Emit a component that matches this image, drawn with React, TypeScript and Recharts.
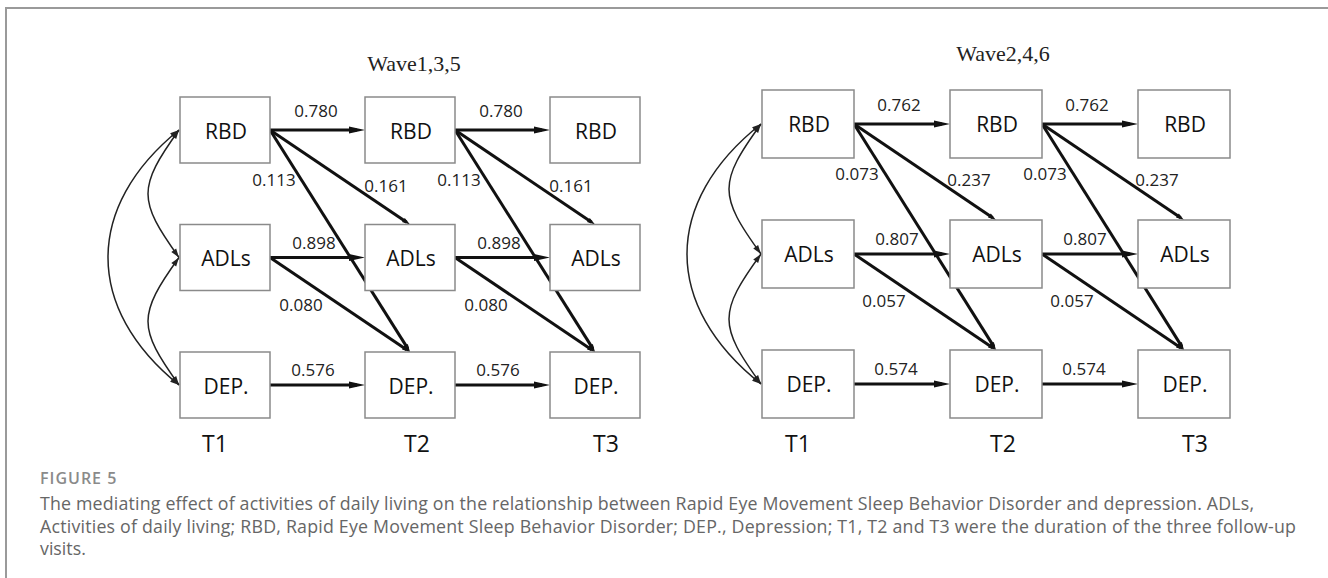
import React from "react";
import { ComposedChart, Scatter, XAxis, YAxis, ReferenceLine } from "recharts";

// ---- data -----------------------------------------------------------------
const TIMES = ["T1", "T2", "T3"];
const VARS = ["RBD", "ADLs", "DEP."];
const WAVE_TITLES = ["Wave1,3,5", "Wave2,4,6"];

// standardized path coefficients, [Wave1,3,5, Wave2,4,6]; same for T1→T2 and T2→T3
const STAB_RBD = [0.78, 0.762];
const STAB_ADL = [0.898, 0.807];
const STAB_DEP = [0.576, 0.574];
const RBD_TO_ADL = [0.161, 0.237];
const RBD_TO_DEP = [0.113, 0.073];
const ADL_TO_DEP = [0.08, 0.057];

// T1 covariances (variable index pairs, 1-based)
const COVARIANCES: [number, number][] = [
  [1, 2],
  [2, 3],
  [1, 3],
];

const CAPTION = [
  "The mediating effect of activities of daily living on the relationship between Rapid Eye Movement Sleep Behavior Disorder and depression. ADLs,",
  "Activities of daily living; RBD, Rapid Eye Movement Sleep Behavior Disorder; DEP., Depression; T1, T2 and T3 were the duration of the three follow-up",
  "visits.",
];
const CAPTION_WIDTH = [1214, 1256, 0];

// ---- layout / style ----------------------------------------------------------
const SANS = "'Open Sans', sans-serif";
const AXIS_H = 40;
const X_DOMAIN = [0, 3.6];
const Y_DOMAIN = [0.2, 3.4];

const PANELS = [
  { left: 40, top: 28, colStep: 185, rowStep: 127.5, box: { w: 90, h: 66 }, bulge: [31, 71], titleX: 414, titleY: 71 },
  { left: 620, top: 20, colStep: 188, rowStep: 130, box: { w: 92, h: 68 }, bulge: [32, 74], titleX: 1003, titleY: 61 },
];

// label placement relative to the source box centre
const LABEL_OFFSET: Record<string, { dx: number; dy: number }> = {
  RR: { dx: 91, dy: -13 },
  AA: { dx: 89, dy: -9 },
  DD: { dx: 88, dy: -9 },
  RD: { dx: 49, dy: 56 },
  RA: { dx: 161, dy: 62 },
  AD: { dx: 76, dy: 53 },
};
const TICK_NUDGE = [-10, 7, 11];

type Edge = { x1: number; y1: number; x2: number; y2: number; kind: string; coef: number };

function buildEdges(p: number): Edge[] {
  const out: Edge[] = [];
  for (let t = 1; t <= 2; t++) {
    out.push({ x1: t, y1: 1, x2: t + 1, y2: 1, kind: "RR", coef: STAB_RBD[p] });
    out.push({ x1: t, y1: 2, x2: t + 1, y2: 2, kind: "AA", coef: STAB_ADL[p] });
    out.push({ x1: t, y1: 3, x2: t + 1, y2: 3, kind: "DD", coef: STAB_DEP[p] });
    out.push({ x1: t, y1: 1, x2: t + 1, y2: 2, kind: "RA", coef: RBD_TO_ADL[p] });
    out.push({ x1: t, y1: 1, x2: t + 1, y2: 3, kind: "RD", coef: RBD_TO_DEP[p] });
    out.push({ x1: t, y1: 2, x2: t + 1, y2: 3, kind: "AD", coef: ADL_TO_DEP[p] });
  }
  return out;
}

const NODES = TIMES.flatMap((_, ti) => VARS.map((label, vi) => ({ x: ti + 1, y: vi + 1, label })));

function head(tx: number, ty: number, ux: number, uy: number, len: number, half: number) {
  const bx = tx - ux * len;
  const by = ty - uy * len;
  return `${tx},${ty} ${bx - uy * half},${by + ux * half} ${bx + uy * half},${by - ux * half}`;
}

function PathShape(props: any) {
  const { x1, y1, x2, y2, edge, box } = props;
  if (x1 == null) return null;
  const sx = x1 + box.w / 2;
  const sy = y1;
  const flat = Math.abs(y2 - y1) < 1;
  const ex = flat ? x2 - box.w / 2 : x2;
  const ey = flat ? y2 : y2 - box.h / 2;
  const len = Math.hypot(ex - sx, ey - sy);
  const ux = (ex - sx) / len;
  const uy = (ey - sy) / len;
  const hl = flat ? 16 : 8;
  const hw = flat ? 3.5 : 2.5;
  const off = LABEL_OFFSET[edge.kind];
  return (
    <g>
      <line x1={sx} y1={sy} x2={ex - ux * hl * 0.5} y2={ey - uy * hl * 0.5} stroke="#111" strokeWidth={3} />
      <polygon points={head(ex, ey, ux, uy, hl, hw)} fill="#111" />
      <text x={x1 + off.dx} y={y1 + off.dy} textAnchor="middle" fontFamily={SANS} fontSize={17} fill="#222">
        {edge.coef.toFixed(3)}
      </text>
    </g>
  );
}

function CovShape(props: any) {
  const { x1, y1, y2, box, bulge } = props;
  if (x1 == null) return null;
  const x = x1 - box.w / 2 - 1;
  const span = y2 - y1;
  const k = bulge / 0.75;
  const a = span > 200 ? 0.3 : 0.45;
  const d = `M${x},${y1} C${x - k},${y1 + a * span} ${x - k},${y2 - a * span} ${x},${y2}`;
  const n = Math.hypot(k, a * span);
  return (
    <g>
      <path d={d} fill="none" stroke="#222" strokeWidth={1.5} />
      <polygon points={head(x, y1, k / n, (-a * span) / n, 9, 3)} fill="#222" />
      <polygon points={head(x, y2, k / n, (a * span) / n, 9, 3)} fill="#222" />
    </g>
  );
}

function Panel({ p }: { p: number }) {
  const cfg = PANELS[p];
  const width = cfg.colStep * (X_DOMAIN[1] - X_DOMAIN[0]);
  const plotH = cfg.rowStep * (Y_DOMAIN[1] - Y_DOMAIN[0]);
  const edges = buildEdges(p);

  const NodeBox = (props: any) => {
    const { cx, cy, payload } = props;
    const { w, h } = cfg.box;
    return (
      <g>
        <rect x={cx - w / 2} y={cy - h / 2} width={w} height={h} fill="#fff" stroke="#8a8a8a" strokeWidth={1.5} />
        <text x={cx + 1} y={cy + 8.5} textAnchor="middle" fontFamily={SANS} fontSize={21} fill="#111">
          {payload.label}
        </text>
      </g>
    );
  };

  const TimeTick = (props: any) => {
    const { x, y, payload } = props;
    const i = payload.value - 1;
    return (
      <text x={x + TICK_NUDGE[i]} y={y + 8} textAnchor="middle" fontFamily={SANS} fontSize={23} fill="#111">
        {TIMES[i]}
      </text>
    );
  };

  return (
    <div style={{ position: "absolute", left: cfg.left, top: cfg.top }}>
      <ComposedChart width={width} height={plotH + AXIS_H} margin={{ top: 0, right: 0, bottom: 0, left: 0 }}>
        <XAxis
          type="number"
          dataKey="x"
          domain={X_DOMAIN}
          ticks={[1, 2, 3]}
          interval={0}
          axisLine={false}
          tickLine={false}
          height={AXIS_H}
          tick={<TimeTick />}
        />
        <YAxis type="number" dataKey="y" domain={Y_DOMAIN} reversed hide />
        {COVARIANCES.map(([a, b], i) => (
          <ReferenceLine
            key={`c${i}`}
            segment={[
              { x: 1, y: a },
              { x: 1, y: b },
            ]}
            shape={(sp: any) => <CovShape {...sp} box={cfg.box} bulge={b - a > 1 ? cfg.bulge[1] : cfg.bulge[0]} />}
          />
        ))}
        {edges.map((e, i) => (
          <ReferenceLine
            key={`e${i}`}
            segment={[
              { x: e.x1, y: e.y1 },
              { x: e.x2, y: e.y2 },
            ]}
            shape={(sp: any) => <PathShape {...sp} edge={e} box={cfg.box} />}
          />
        ))}
        <Scatter data={NODES} shape={<NodeBox />} isAnimationActive={false} />
      </ComposedChart>
    </div>
  );
}

export default function App() {
  return (
    <div style={{ position: "absolute", left: 0, top: 0, width: 1328, height: 578, background: "#fff", overflow: "hidden" }}>
      <svg width={1328} height={578} style={{ position: "absolute", left: 0, top: 0 }}>
        <line x1={5} y1={8} x2={1328} y2={8} stroke="#9a9a9a" strokeWidth={2} />
        <line x1={6} y1={7} x2={6} y2={578} stroke="#9a9a9a" strokeWidth={2} />
        {PANELS.map((cfg, i) => (
          <text key={i} x={cfg.titleX} y={cfg.titleY} textAnchor="middle" fontFamily="'Liberation Serif', serif" fontSize={22} fill="#222">
            {WAVE_TITLES[i]}
          </text>
        ))}
        <text x={40} y={484} fontFamily={SANS} fontSize={16} fontWeight={600} letterSpacing={1} fill="#8a8a8a">
          FIGURE 5
        </text>
        {CAPTION.map((line, i) => (
          <text
            key={i}
            x={40}
            y={510 + i * 22.5}
            fontFamily={SANS}
            fontSize={17.8}
            fill="#666"
            {...(CAPTION_WIDTH[i] ? { textLength: CAPTION_WIDTH[i], lengthAdjust: "spacing" } : {})}
          >
            {line}
          </text>
        ))}
      </svg>
      <Panel p={0} />
      <Panel p={1} />
    </div>
  );
}
